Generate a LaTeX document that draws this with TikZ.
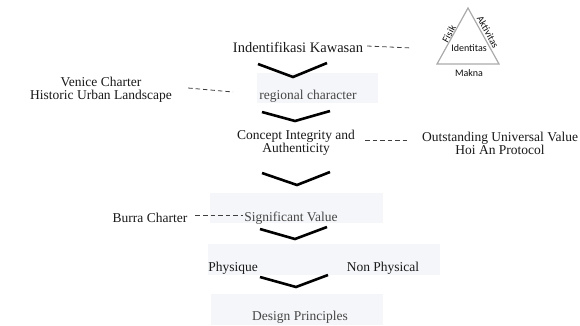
\documentclass[tikz,border=0pt]{standalone}
\usepackage{fontspec}
\setmainfont{Liberation Serif}
\newfontfamily\calfont{Carlito}
\definecolor{boxfill}{RGB}{245,246,249}
\definecolor{graytext}{RGB}{70,70,70}
\definecolor{triline}{RGB}{170,170,170}
\begin{document}
\begin{tikzpicture}[x=1pt,y=-1pt,
  lbl/.style={inner sep=0pt,font=\fontsize{13.5}{13}\selectfont,align=center,text=black!90},
  boxlbl/.style={lbl,text=graytext},
  bg/.style={fill=boxfill,draw=none},
  chev/.style={line width=2.6pt,black},
  dashlink/.style={line width=0.8pt,black!75,dash pattern=on 4.5pt off 3pt},
  tri/.style={inner sep=0pt,font=\calfont\fontsize{10}{10}\selectfont,text=black!95}]
\useasboundingbox (0,0) rectangle (580,325);
% background boxes
\fill[bg] (257,73) rectangle (378,103);
\fill[bg] (210,193) rectangle (383,223);
\fill[bg] (208,244) rectangle (440,275);
\fill[bg] (211,294) rectangle (383,325);
% triangle
\draw[triline,line width=1.2pt] (468,8) -- (437,64) -- (499,64) -- cycle;
\node[tri,rotate=61] (fisik) at (449,34) {Fisik};
\node[tri,rotate=-61] (aktiv) at (488,32) {Aktivitas};
\node[tri] (identitas) at (469,48) {Identitas};
\node[tri] (makna) at (469,73) {Makna};
% texts
\node[lbl,font=\fontsize{14.5}{14}\selectfont] (ident) at (298,47) {Indentifikasi Kawasan};
\node[lbl] (venice) at (101,90) {Venice Charter\\Historic Urban Landscape};
\node[boxlbl] (regional) at (308,96) {regional character};
\node[lbl] (concept) at (296,143) {Concept Integrity and\\Authenticity};
\node[lbl] (ouv) at (500,143) {Outstanding Universal Value\\Hoi An Protocol};
\node[lbl] (burra) at (150,218) {Burra Charter};
\node[boxlbl] (sig) at (291,218) {Significant Value};
\node[lbl] (phys) at (233,268) {Physique};
\node[lbl] (nonphys) at (383,268) {Non Physical};
\node[boxlbl] (design) at (300,317) {Design Principles};
% dashed links
\coordinate (identR) at (412,48);
\draw[dashlink] ([xshift=4pt,yshift=1pt]ident.east) -- (identR);
\coordinate (veniceR) at (233,92);
\draw[dashlink] ([xshift=16pt,yshift=2pt]venice.east) -- (veniceR);
\coordinate (conceptR) at (408,140);
\draw[dashlink] (365,140) -- (conceptR);
\draw[dashlink] ([xshift=8pt,yshift=3pt]burra.east) -- ([xshift=-1pt,yshift=3pt]sig.west);
% chevrons
\draw[chev] (258,64) -- (293,77) -- (327,63);
\draw[chev] (262,112) -- (295,121) -- (330,111);
\draw[chev] (262,173) -- (297,185) -- (330,172);
\draw[chev] (260,229) -- (295,239) -- (327,227);
\draw[chev] (260,277) -- (296,287) -- (328,275);
\end{tikzpicture}
\end{document}
